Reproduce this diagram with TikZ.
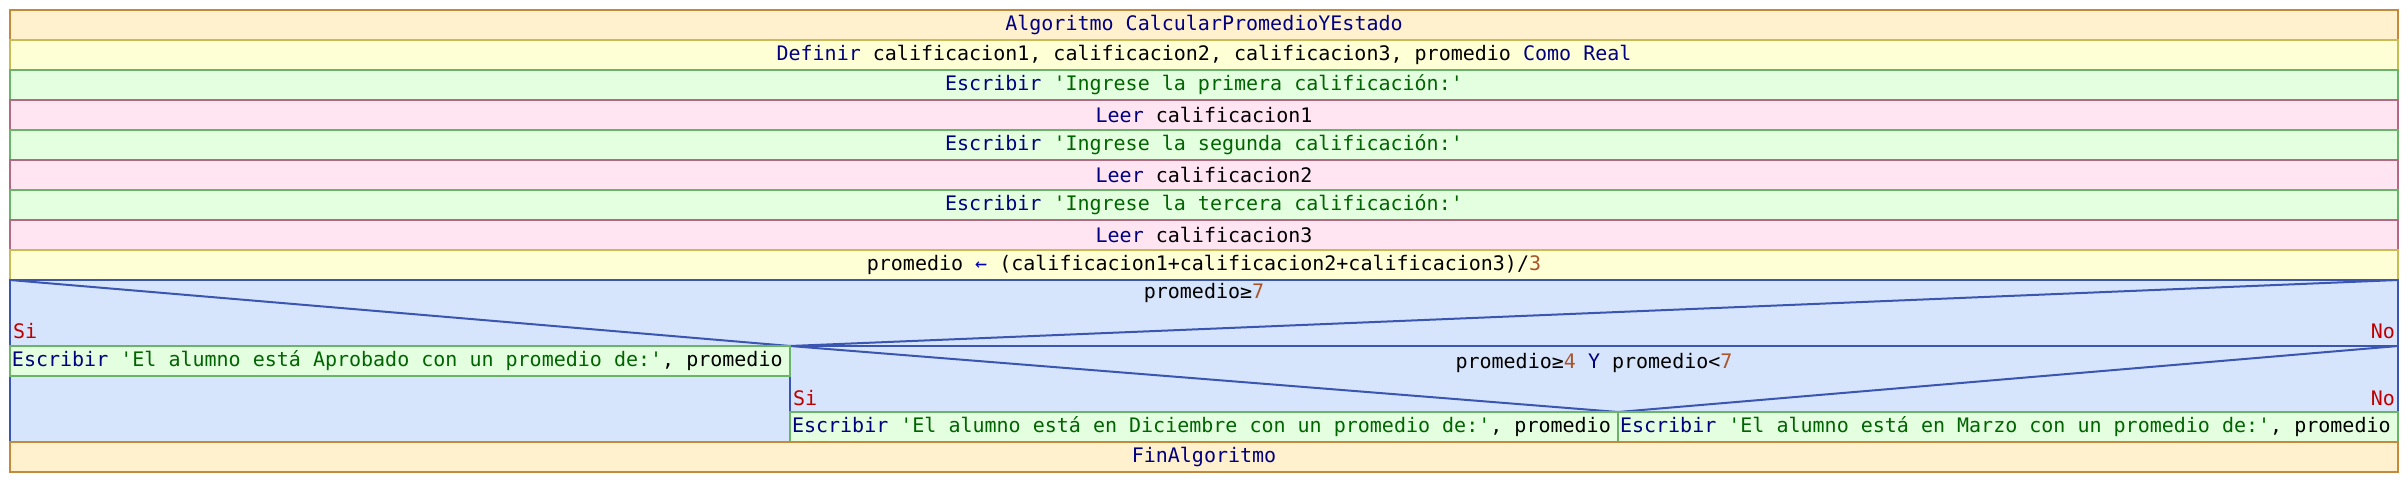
\documentclass[tikz,border=0pt]{standalone}
\usepackage{fontspec}
\setmonofont{DejaVu Sans Mono}
\definecolor{algofill}{HTML}{FFF1CE}
\definecolor{algodraw}{HTML}{C48A3C}
\definecolor{deffill}{HTML}{FFFFD6}
\definecolor{defdraw}{HTML}{C9BB55}
\definecolor{escfill}{HTML}{E4FFE0}
\definecolor{escdraw}{HTML}{6AB46A}
\definecolor{leerfill}{HTML}{FFE4F2}
\definecolor{leerdraw}{HTML}{B06A82}
\definecolor{iffill}{HTML}{D6E4FC}
\definecolor{ifdraw}{HTML}{3A56B0}
\definecolor{kw}{HTML}{000080}
\definecolor{str}{HTML}{006400}
\definecolor{num}{HTML}{A8552A}
\definecolor{sino}{HTML}{C00000}
\newcommand{\K}[1]{\textcolor{kw}{#1}}
\newcommand{\Sg}[1]{\textcolor{str}{#1}}
\newcommand{\Nm}[1]{\textcolor{num}{#1}}
\begin{document}
\begin{tikzpicture}[x=1pt,y=-1pt,
  every node/.style={font=\ttfamily\fontsize{20}{24}\selectfont, inner sep=0pt, outer sep=0pt},
  rowbox/.style={minimum width=2388pt, minimum height=30pt, anchor=north west, line width=2pt},
  algobox/.style={rowbox, fill=algofill, draw=algodraw},
  defbox/.style={rowbox, fill=deffill, draw=defdraw},
  escbox/.style={rowbox, fill=escfill, draw=escdraw},
  leerbox/.style={rowbox, fill=leerfill, draw=leerdraw},
  cellbox/.style={minimum height=30pt, anchor=north west, line width=2pt, fill=escfill, draw=escdraw, text depth=0pt},
  ifline/.style={draw=ifdraw, line width=2pt},
  lbl/.style={text=sino}
]
\useasboundingbox (0,0) rectangle (2408,482);
\node[algobox] (r1) at (10,10) {\K{Algoritmo} \K{CalcularPromedioYEstado}};
\node[defbox] (r2) at (10,40) {\K{Definir} calificacion1, calificacion2, calificacion3, promedio \K{Como Real}};
\node[escbox] (r3) at (10,70) {\K{Escribir} \Sg{'Ingrese la primera calificación:'}};
\node[leerbox] (r4) at (10,100) {\K{Leer} calificacion1};
\node[escbox] (r5) at (10,130) {\K{Escribir} \Sg{'Ingrese la segunda calificación:'}};
\node[leerbox] (r6) at (10,160) {\K{Leer} calificacion2};
\node[escbox] (r7) at (10,190) {\K{Escribir} \Sg{'Ingrese la tercera calificación:'}};
\node[leerbox] (r8) at (10,220) {\K{Leer} calificacion3};
\node[defbox] (r9) at (10,250) {promedio \textcolor{blue!70!black}{←} (calificacion1+calificacion2+calificacion3)/\Nm{3}};
% if block
\node[anchor=north west, minimum width=2388pt, minimum height=162pt, fill=iffill, draw=ifdraw, line width=2pt] (if1) at (10,280) {};
\coordinate (p1) at (790,346);
\coordinate (p2) at (1618,412);
\draw[ifline] (if1.north west) -- (p1) -- (if1.north east);
\draw[ifline] (p1) -- (if1.east |- p1);
\draw[ifline] (p1) -- (790,442);
\draw[ifline] (p1) -- (p2) -- (if1.east |- p1);
\node (c1) at (1204,293) {promedio≥\Nm{7}};
\node[lbl, anchor=west] (si1) at (13,331) {Si};
\node[lbl, anchor=east] (no1) at (2395,331) {No};
\node (c2) at (1594,363) {promedio≥\Nm{4} \K{Y} promedio<\Nm{7}};
\node[lbl, anchor=west] (si2) at (793,398) {Si};
\node[lbl, anchor=east] (no2) at (2395,398) {No};
\node[cellbox, minimum width=780pt] (e1) at (10,346) {};
\node[anchor=west] at ([xshift=2pt]e1.west) {\K{Escribir} \Sg{'El alumno está Aprobado con un promedio de:'}, promedio};
\node[cellbox, minimum width=828pt] (e2) at (790,412) {};
\node[anchor=west] at ([xshift=2pt]e2.west) {\K{Escribir} \Sg{'El alumno está en Diciembre con un promedio de:'}, promedio};
\node[cellbox, minimum width=780pt] (e3) at (1618,412) {};
\node[anchor=west] at ([xshift=2pt]e3.west) {\K{Escribir} \Sg{'El alumno está en Marzo con un promedio de:'}, promedio};
\node[algobox] (r10) at (10,442) {\K{FinAlgoritmo}};
\end{tikzpicture}
\end{document}
